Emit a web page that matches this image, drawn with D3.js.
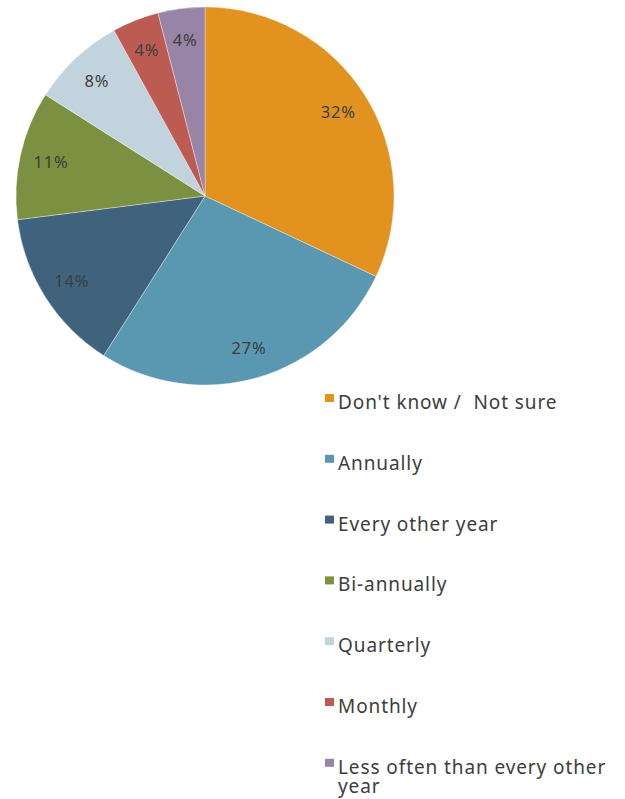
<!DOCTYPE html>
<html>
<head>
<meta charset="utf-8">
<script src="https://cdn.jsdelivr.net/npm/d3@7"></script>
<style>
  html, body { margin: 0; padding: 0; background: #fff; }
  svg { display: block; }
</style>
</head>
<body>
<svg id="chart" width="625" height="799"></svg>
<script>
// Survey answer frequencies (percent of respondents)
const categories = [
  "Don't know /  Not sure",
  "Annually",
  "Every other year",
  "Bi-annually",
  "Quarterly",
  "Monthly",
  "Less often than every other year"
];
const values = [32, 27, 14, 11, 8, 4, 4];
const colors = ["#E2921F", "#5A98B2", "#3F627D", "#7B9141", "#C2D3DD", "#BB5B52", "#9784A6"];

const data = categories.map((c, i) => ({ category: c, value: values[i] }));

const svg = d3.select("#chart");
const fontFamily = "'Noto Sans', 'Open Sans', sans-serif";
const textColor = "#3d3d3d";

const cx = 205, cy = 196, radius = 189;

const color = d3.scaleOrdinal().domain(categories).range(colors);

const pie = d3.pie()
  .value(d => d.value)
  .sort(null)
  .startAngle(0)
  .endAngle(2 * Math.PI);

const arc = d3.arc().innerRadius(0).outerRadius(radius);
const labelArc = d3.arc().innerRadius(radius * 0.835).outerRadius(radius * 0.835);

const g = svg.append("g").attr("transform", `translate(${cx},${cy})`);
const arcs = pie(data);

g.selectAll("path.slice")
  .data(arcs)
  .join("path")
  .attr("class", "slice")
  .attr("d", arc)
  .attr("fill", d => color(d.data.category))
  .attr("stroke", "#ffffff")
  .attr("stroke-opacity", 0.6)
  .attr("stroke-width", 0.6);

g.selectAll("text.pct")
  .data(arcs)
  .join("text")
  .attr("class", "pct")
  .attr("transform", d => `translate(${labelArc.centroid(d)})`)
  .attr("text-anchor", "middle")
  .attr("dominant-baseline", "central")
  .attr("font-family", fontFamily)
  .attr("font-size", 16.5)
  .attr("letter-spacing", 0.8)
  .attr("fill", textColor)
  .text(d => d.data.value + "%");

// Legend: one row per category, stacked down the right side
const legendX = 325, legendTop = 394, rowStep = 60.8, maxTextWidth = 280;
const legend = svg.append("g").attr("class", "legend");

const rows = legend.selectAll("g.row")
  .data(data)
  .join("g")
  .attr("class", "row")
  .attr("transform", (d, i) => `translate(${legendX},${legendTop + i * rowStep})`);

rows.append("rect")
  .attr("x", 0).attr("y", 0)
  .attr("width", 9).attr("height", 8)
  .attr("fill", d => color(d.category));

rows.append("text")
  .attr("x", 13)
  .attr("y", 15)
  .attr("font-family", fontFamily)
  .attr("font-size", 19)
  .attr("letter-spacing", 0.9)
  .attr("fill", textColor)
  .attr("xml:space", "preserve")
  .each(function(d) {
    const text = d3.select(this);
    const words = d.category.split(" ");
    let line = [];
    let tspan = text.append("tspan").attr("x", 13).attr("dy", 0);
    words.forEach(w => {
      line.push(w);
      tspan.text(line.join(" "));
      if (tspan.node().getComputedTextLength() > maxTextWidth && line.length > 1) {
        line.pop();
        tspan.text(line.join(" "));
        line = [w];
        tspan = text.append("tspan").attr("x", 13).attr("dy", 19).text(w);
      }
    });
  });
</script>
</body>
</html>
